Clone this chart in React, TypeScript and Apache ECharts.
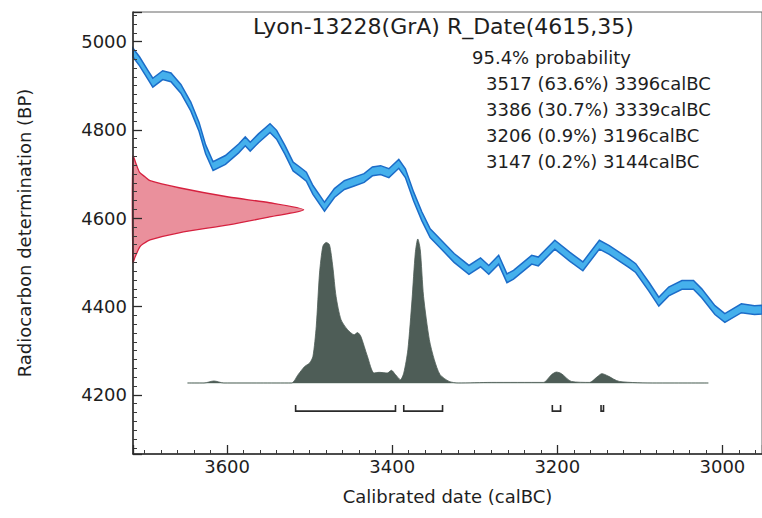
import React, { useEffect, useRef } from "react";
import * as echarts from "echarts";

// Calibration curve (IntCal-style band), calBC years vs radiocarbon BP
const calYears = [3714, 3706, 3696, 3690, 3678, 3668, 3656, 3644, 3634, 3626, 3617, 3602, 3586, 3578, 3572, 3562, 3548, 3540, 3530, 3520, 3512, 3504, 3496, 3482, 3470, 3458, 3446, 3434, 3424, 3414, 3404, 3392, 3384, 3374, 3364, 3354, 3342, 3325, 3307, 3293, 3283, 3271, 3261, 3253, 3231, 3223, 3203, 3185, 3169, 3149, 3137, 3113, 3105, 3089, 3077, 3065, 3049, 3035, 3025, 3009, 2997, 2977, 2961, 2952];
const calBP = [4975, 4955, 4925, 4907, 4924, 4919, 4893, 4853, 4807, 4756, 4718, 4732, 4758, 4774, 4762, 4781, 4804, 4789, 4755, 4717, 4706, 4694, 4664, 4626, 4657, 4675, 4683, 4691, 4706, 4709, 4702, 4723, 4702, 4649, 4604, 4566, 4543, 4510, 4483, 4500, 4483, 4506, 4464, 4472, 4506, 4502, 4540, 4513, 4491, 4540, 4528, 4498, 4487, 4445, 4411, 4434, 4449, 4449, 4430, 4392, 4374, 4396, 4392, 4393];
const calError = 10;

// Radiocarbon measurement R_Date(4615,35): relative density vs BP
const priorBP = [4740, 4721, 4703, 4694, 4685, 4669, 4648, 4635, 4619, 4603, 4585, 4567, 4551, 4542, 4535, 4512, 4500];
const priorDensity = [0, 0.02, 0.04, 0.07, 0.1, 0.27, 0.56, 0.8, 1.0, 0.8, 0.56, 0.27, 0.1, 0.06, 0.04, 0.012, 0];

// Calibrated (posterior) distribution, calBC years vs relative probability
const postYears = [3648, 3628, 3616, 3604, 3560, 3522, 3514, 3506, 3500, 3496, 3492, 3488, 3484, 3480, 3476, 3472, 3468, 3462, 3454, 3446, 3442, 3438, 3430, 3422, 3416, 3406, 3401, 3396, 3390, 3386, 3381, 3376, 3372, 3369, 3366, 3362, 3355, 3349, 3342, 3331, 3320, 3280, 3217, 3207, 3201, 3195, 3183, 3161, 3151, 3146, 3139, 3125, 3080, 3017];
const postProb = [0, 0, 0.014, 0, 0, 0, 0.058, 0.115, 0.139, 0.185, 0.393, 0.764, 0.949, 0.976, 0.96, 0.81, 0.601, 0.44, 0.37, 0.335, 0.35, 0.324, 0.185, 0.069, 0.074, 0.069, 0.088, 0.058, 0.023, 0.069, 0.231, 0.578, 0.903, 1.0, 0.926, 0.601, 0.301, 0.162, 0.058, 0.011, 0, 0.004, 0.004, 0.058, 0.076, 0.065, 0.011, 0.004, 0.046, 0.065, 0.05, 0.011, 0, 0];

// 95.4% probability ranges
const rangeFrom = [3517, 3386, 3206, 3147];
const rangePct = ["63.6", "30.7", "0.9", "0.2"];
const rangeTo = [3396, 3339, 3196, 3144];

const titleText = "Lyon-13228(GrA) R_Date(4615,35)";
const probText = "95.4% probability";
const xName = "Calibrated date (calBC)";
const yName = "Radiocarbon determination (BP)";

const FONT = "DejaVu Sans";
const INK = "#1e1e1e";

function makeTicks() {
  return {
    axisTick: { show: true, inside: false, length: -9, lineStyle: { color: "#2a2a2a", width: 1.3 } },
    minorTick: { show: true, splitNumber: 10, length: -4, lineStyle: { color: "#3a3a3a", width: 1 } },
  };
}

export default function App() {
  const ref = useRef<HTMLDivElement>(null);

  useEffect(() => {
    if (!ref.current) return;
    const chart = echarts.init(ref.current, null, { renderer: "svg" });

    const gridLeft = 133;
    const gridRight = -5;
    const gridWidth = 762 - gridLeft - gridRight;
    const priorPeakPx = 172;

    const rangeLines = rangeFrom.map(
      (f, i) => `${f} (${rangePct[i]}%) ${rangeTo[i]}calBC`
    );

    const option: any = {
      animation: false,
      grid: {
        left: gridLeft,
        right: gridRight,
        top: 12,
        bottom: 64,
        show: true,
        borderColor: "#666",
        borderWidth: 1,
      },
      xAxis: [
        {
          ...makeTicks(),
          z: 10,
          type: "value",
          inverse: true,
          min: 2952,
          max: 3714,
          splitNumber: 5,
          minInterval: 200,
          maxInterval: 200,
          position: "bottom",
          splitLine: { show: false },
          axisLine: { onZero: false, lineStyle: { color: "#2a2a2a", width: 1.5 } },
          axisLabel: {
            margin: 3,
            fontFamily: FONT,
            fontSize: 18,
            color: INK,
            showMinLabel: false,
            showMaxLabel: false,
            formatter: (v: number) => String(v),
          },
          name: xName,
          nameLocation: "middle",
          nameGap: 33,
          nameTextStyle: { fontFamily: FONT, fontSize: 18, color: INK },
        },
        {
          type: "value",
          show: false,
          position: "top",
          min: 0,
          max: gridWidth / priorPeakPx,
        },
      ],
      yAxis: [
        {
          ...makeTicks(),
          z: 10,
          type: "value",
          min: 4066,
          max: 5067,
          splitNumber: 5,
          minInterval: 200,
          maxInterval: 200,
          splitLine: { show: false },
          axisLine: { onZero: false, lineStyle: { color: "#2a2a2a", width: 1.5 } },
          axisLabel: {
            margin: 6,
            fontFamily: FONT,
            fontSize: 18,
            color: INK,
            showMinLabel: false,
            showMaxLabel: false,
            formatter: (v: number) => String(v),
          },
          name: yName,
          nameLocation: "middle",
          nameGap: 100,
          nameTextStyle: { fontFamily: FONT, fontSize: 18, color: INK },
        },
        {
          type: "value",
          show: false,
          position: "right",
          min: -0.493,
          max: 2.576,
        },
      ],
      series: [
        {
          type: "custom",
          name: "calibration",
          xAxisIndex: 0,
          yAxisIndex: 0,
          z: 2,
          data: calYears.map((y, i) => [y, calBP[i]]),
          renderItem: (params: any, api: any) => {
            if (params.dataIndex !== 0) return null;
            const upper = calYears.map((y, i) => api.coord([y, calBP[i] + calError]));
            const lower = calYears
              .map((y, i) => api.coord([y, calBP[i] - calError]))
              .reverse();
            return {
              type: "polygon",
              shape: { points: upper.concat(lower) },
              style: { fill: "#45b0ec", stroke: "#1c6cc8", lineWidth: 1.5 },
            };
          },
        },
        {
          type: "custom",
          name: "measurement",
          xAxisIndex: 1,
          yAxisIndex: 0,
          z: 3,
          data: priorBP.map((bp, i) => [priorDensity[i], bp]),
          renderItem: (params: any, api: any) => {
            if (params.dataIndex !== 0) return null;
            const pts = priorBP.map((bp, i) => api.coord([priorDensity[i], bp]));
            return {
              type: "polygon",
              shape: { points: pts, smooth: 0.25 },
              style: { fill: "#ea909c", stroke: "#d6213f", lineWidth: 1.3 },
            };
          },
        },
        {
          type: "line",
          name: "baseline",
          xAxisIndex: 0,
          yAxisIndex: 1,
          z: 3,
          symbol: "none",
          silent: true,
          data: [
            [postYears[0], 0],
            [postYears[postYears.length - 1], 0],
          ],
          lineStyle: { color: "#b4c2ba", width: 1.2 },
        },
        {
          type: "line",
          name: "posterior",
          xAxisIndex: 0,
          yAxisIndex: 1,
          z: 4,
          symbol: "none",
          smooth: 0.25,
          data: postYears.map((y, i) => [y, postProb[i]]),
          lineStyle: { color: "#4e5d57", width: 0.8 },
          areaStyle: { color: "#4e5d57", opacity: 1 },
        },
        {
          type: "custom",
          name: "ranges",
          xAxisIndex: 0,
          yAxisIndex: 1,
          z: 5,
          encode: { x: [0, 1] },
          data: rangeFrom.map((f, i) => [f, rangeTo[i]]),
          renderItem: (params: any, api: any) => {
            const a = api.coord([api.value(0), -0.195]);
            const b = api.coord([api.value(1), -0.195]);
            return {
              type: "polyline",
              shape: {
                points: [
                  [a[0], a[1] - 6],
                  [a[0], a[1]],
                  [b[0], b[1]],
                  [b[0], b[1] - 6],
                ],
              },
              style: { stroke: "#2a2a2a", lineWidth: 1.6, fill: null },
            };
          },
        },
      ],
      graphic: [
        {
          type: "text",
          x: 253,
          y: 26,
          style: {
            text: titleText,
            fontFamily: FONT,
            fontSize: 22,
            fill: INK,
            align: "left",
            verticalAlign: "middle",
          },
        },
        {
          type: "text",
          x: 472,
          y: 57,
          style: {
            text: probText,
            fontFamily: FONT,
            fontSize: 18,
            fill: INK,
            align: "left",
            verticalAlign: "middle",
          },
        },
        ...rangeLines.map((t, i) => ({
          type: "text",
          x: 486,
          y: 83 + i * 26.2,
          style: {
            text: t,
            fontFamily: FONT,
            fontSize: 18,
            fill: INK,
            align: "left",
            verticalAlign: "middle",
          },
        })),
      ],
    };

    chart.setOption(option);
    return () => {
      chart.dispose();
    };
  }, []);

  return (
    <div
      ref={ref}
      style={{ position: "absolute", left: 0, top: 0, width: 762, height: 518, background: "#fff" }}
    />
  );
}
